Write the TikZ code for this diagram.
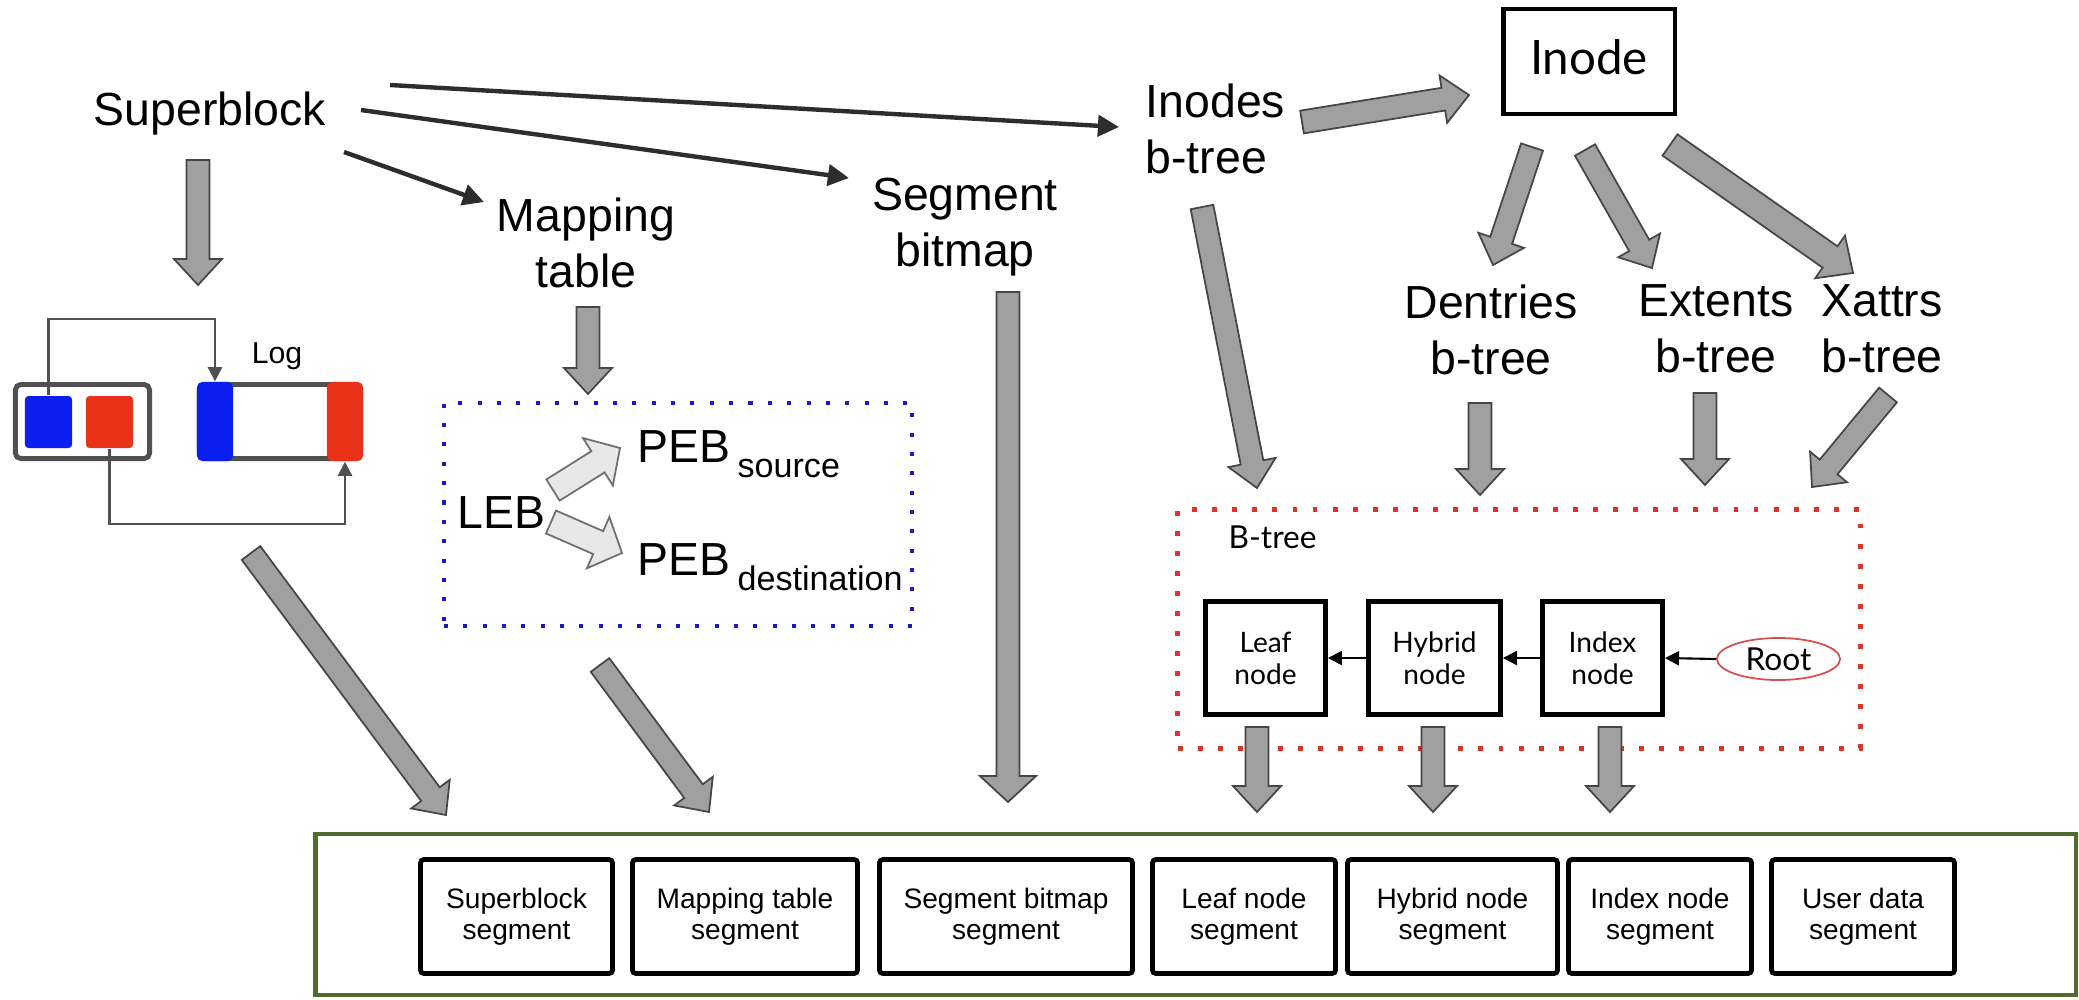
\documentclass[tikz,border=0pt]{standalone}
\usepackage{fontspec}
\setmainfont{Liberation Sans}
\newfontfamily\geofont{Lato}
\usetikzlibrary{calc,arrows.meta,shapes.geometric}

\definecolor{arrowgray}{RGB}{160,160,160}
\definecolor{arrowedge}{RGB}{70,70,70}
\definecolor{lightarrow}{RGB}{232,232,232}
\definecolor{lightedge}{RGB}{110,110,110}
\definecolor{darkline}{RGB}{45,45,45}
\definecolor{loggray}{RGB}{80,80,80}
\definecolor{cacheblue}{RGB}{10,30,240}
\definecolor{cachered}{RGB}{232,50,25}
\definecolor{dotblue}{RGB}{25,25,200}
\definecolor{dotred}{RGB}{225,50,40}
\definecolor{diskgreen}{RGB}{78,108,48}
\definecolor{rootred}{RGB}{215,80,80}

% block arrow: [style]{from}{to}{half shaft width}{half head width}{head length}
\newcommand\fatarrow[6][fatgray]{%
  \coordinate (fabase) at ($(#3)!#6!(#2)$);
  \draw[#1] ($(#2)!#4!90:(#3)$) -- ($(fabase)!#4!90:(#3)$) -- ($(fabase)!#5!90:(#3)$)
    -- (#3) -- ($(fabase)!#5!-90:(#3)$) -- ($(fabase)!#4!-90:(#3)$)
    -- ($(#2)!#4!-90:(#3)$) -- cycle;}
\newcommand\grayarrow[2]{\fatarrow{#1}{#2}{0.115cm}{0.24cm}{0.26cm}}

\begin{document}
\begin{tikzpicture}[x=0.01cm,y=-0.01cm,
  lbl/.style={font=\fontsize{13.2pt}{15.9pt}\selectfont, inner sep=0pt, align=center},
  seglbl/.style={draw=black, line width=1.35pt, rounded corners=1pt,
    font=\fontsize{8pt}{8.7pt}\selectfont, align=center, minimum height=1.14cm, inner sep=0pt},
  treebox/.style={draw=black, line width=1.35pt,
    font=\geofont\fontsize{8pt}{9.1pt}\selectfont, align=center, minimum height=1.13cm, inner sep=0pt},
  thinarrow/.style={draw=darkline, line width=1.25pt, -{Triangle[length=6pt,width=6pt]}},
  logline/.style={draw=loggray, line width=0.6pt, -{Triangle[length=4pt,width=4pt]}},
  treelink/.style={draw=black, line width=0.6pt, -{Triangle[length=4pt,width=4pt]}},
  fatgray/.style={fill=arrowgray, draw=arrowedge, line width=0.5pt, line join=miter},
  fatlight/.style={fill=lightarrow, draw=lightedge, line width=0.5pt, line join=miter},
  frame/.style={inner sep=0pt},
]
\fill[white] (0,0) rectangle (2079,999);
\useasboundingbox (0,0) rectangle (2079,999);

% ---------- top labels ----------
\node[lbl, anchor=base] (sb) at (210,125) {Superblock};
\node[lbl, anchor=north] (mt) at (586,197) {Mapping\\table};
\node[lbl, anchor=north] (bm) at (965,177) {Segment\\bitmap};
\node[lbl, anchor=north west, align=left] (ibt) at (1145,83) {Inodes\\b-tree};
\node[draw=black, line width=1.3pt, minimum width=1.715cm, minimum height=1.05cm, inner sep=0pt,
  text height=9.7pt, text depth=2.4pt,
  font=\geofont\fontsize{13.5pt}{16pt}\selectfont] (inode) at (1589,61.5) {Inode};
\node[lbl, anchor=north] (dent) at (1491,284) {Dentries\\b-tree};
\node[lbl, anchor=north] (ext) at (1716,284) {Extents\\b-tree};
\node[lbl, anchor=north] (xat) at (1882,284) {Xattrs\\b-tree};

% ---------- thin arrows from the superblock ----------
\coordinate (sbmt-s) at (344,152);  \coordinate (sbmt-e) at (484,202);
\coordinate (sbbm-s) at (361,110);  \coordinate (sbbm-e) at (849,178);
\coordinate (sbib-s) at (390,85);   \coordinate (sbib-e) at (1119,127);
\draw[thinarrow] (sbmt-s) -- (sbmt-e);
\draw[thinarrow] (sbbm-s) -- (sbbm-e);
\draw[thinarrow] (sbib-s) -- (sbib-e);

% ---------- log area ----------
\node[frame, draw=loggray, line width=1.4pt, rounded corners=1.5pt, minimum width=1.34cm, minimum height=0.74cm] (cache) at (82.5,421.5) {};
\node[frame, fill=cacheblue, rounded corners=1pt, minimum width=0.47cm, minimum height=0.52cm] (cblue) at (48.5,422) {};
\node[frame, fill=cachered, rounded corners=1pt, minimum width=0.47cm, minimum height=0.52cm] (cred) at (109.5,422) {};
\node[frame, draw=loggray, line width=1.4pt, rounded corners=1.5pt, minimum width=1.61cm, minimum height=0.74cm] (log) at (280,421.5) {};
\node[frame, fill=cacheblue, rounded corners=1.5pt, minimum width=0.36cm, minimum height=0.79cm] (logblue) at (215,421.5) {};
\node[frame, fill=cachered, rounded corners=1.5pt, minimum width=0.36cm, minimum height=0.79cm] (logred) at (345,421.5) {};
\node[inner sep=0pt, anchor=base, font=\fontsize{8.6pt}{10pt}\selectfont] (loglbl) at (277,363) {Log};
\draw[logline] (cblue.north) -- ++(0,-76) -| (logblue.north);
\draw[logline] (cred.south) -- ++(0,75) -| (logred.south);

% ---------- mapping table contents ----------
\node[frame, draw=dotblue, line width=1.15pt, dash pattern=on 1.15pt off 4.35pt,
  minimum width=4.68cm, minimum height=2.23cm] (remap) at (678,514.5) {};
\node[lbl, anchor=base west] (leb) at (457,528) {LEB};
\node[lbl, anchor=base west] (pebs) at (637,462)
  {PEB\kern2pt\raisebox{-4.5pt}{\fontsize{9.7pt}{10pt}\selectfont source}};
\node[lbl, anchor=base west] (pebd) at (637,575)
  {PEB\kern2pt\raisebox{-4.5pt}{\fontsize{9.7pt}{10pt}\selectfont destination}};
\coordinate (lebs-s) at (553,490); \coordinate (lebs-e) at (620,448);
\coordinate (lebd-s) at (551,522); \coordinate (lebd-e) at (622,553);
\fatarrow[fatlight]{lebs-s}{lebs-e}{0.125cm}{0.28cm}{0.26cm}
\fatarrow[fatlight]{lebd-s}{lebd-e}{0.125cm}{0.28cm}{0.26cm}

% ---------- B-tree ----------
\node[frame, draw=dotred, line width=1.4pt, dash pattern=on 1.4pt off 4.3pt,
  minimum width=6.82cm, minimum height=2.38cm] (btree) at (1519,629) {};
\node[inner sep=0pt, anchor=base west, font=\geofont\fontsize{9pt}{10pt}\selectfont] (btlbl) at (1228,548) {B-tree};
\node[treebox, minimum width=1.20cm] (leaf) at (1265.5,658) {Leaf\\node};
\node[treebox, minimum width=1.32cm] (hybrid) at (1434.5,658) {Hybrid\\node};
\node[treebox, minimum width=1.20cm] (index) at (1602.5,658) {Index\\node};
\node[ellipse, draw=rootred, line width=0.5pt, fill=white, inner sep=0pt,
  minimum width=1.23cm, minimum height=0.42cm, font=\geofont\fontsize{9pt}{10pt}\selectfont] (root) at (1778.5,659) {Root};
\draw[treelink] (root.west) -- (index.east);
\draw[treelink] (index.west) -- (hybrid.east);
\draw[treelink] (hybrid.west) -- (leaf.east);

% ---------- on-disk segments ----------
\node[frame, draw=diskgreen, line width=1.15pt, minimum width=17.59cm, minimum height=1.61cm] (disk) at (1195.5,914.5) {};
\node[seglbl, minimum width=1.92cm] (sbseg) at (516.5,916.5) {Superblock\\segment};
\node[seglbl, minimum width=2.25cm] (mtseg) at (745,916.5) {Mapping table\\segment};
\node[seglbl, minimum width=2.53cm] (bmseg) at (1006,916.5) {Segment bitmap\\segment};
\node[seglbl, minimum width=1.83cm] (lfseg) at (1244,916.5) {Leaf node\\segment};
\node[seglbl, minimum width=2.10cm] (hyseg) at (1452.5,916.5) {Hybrid node\\segment};
\node[seglbl, minimum width=1.83cm] (ixseg) at (1660,916.5) {Index node\\segment};
\node[seglbl, minimum width=1.83cm] (udseg) at (1863,916.5) {User data\\segment};

% ---------- block arrows ----------
\coordinate (sbdn-s) at (198,160);   \coordinate (sbdn-e) at (198,285);
\coordinate (mtdn-s) at (588,307);   \coordinate (mtdn-e) at (588,394);
\coordinate (bmdn-s) at (1008,292);  \coordinate (bmdn-e) at (1008,802);
\coordinate (logdn-s) at (251,553);  \coordinate (logdn-e) at (446,815);
\coordinate (rmdn-s) at (600,665);   \coordinate (rmdn-e) at (709,812);
\coordinate (ibin-s) at (1302,122);  \coordinate (ibin-e) at (1469,95);
\coordinate (ide-s) at (1532,147);   \coordinate (ide-e) at (1493,265);
\coordinate (iex-s) at (1585,150);   \coordinate (iex-e) at (1652,268);
\coordinate (ixa-s) at (1670,145);   \coordinate (ixa-e) at (1853,273);
\coordinate (ibdn-s) at (1202,207);  \coordinate (ibdn-e) at (1257,488);
\coordinate (dedn-s) at (1480,403);  \coordinate (dedn-e) at (1480,495);
\coordinate (exdn-s) at (1705,393);  \coordinate (exdn-e) at (1705,485);
\coordinate (xadn-s) at (1888,395);  \coordinate (xadn-e) at (1812,487);
\coordinate (lfdn-s) at (1257,727);  \coordinate (lfdn-e) at (1257,812);
\coordinate (hydn-s) at (1433,727);  \coordinate (hydn-e) at (1433,812);
\coordinate (ixdn-s) at (1610,727);  \coordinate (ixdn-e) at (1610,812);

\grayarrow{sbdn-s}{sbdn-e}
\grayarrow{mtdn-s}{mtdn-e}
\fatarrow{bmdn-s}{bmdn-e}{0.115cm}{0.28cm}{0.26cm}
\grayarrow{logdn-s}{logdn-e}
\grayarrow{rmdn-s}{rmdn-e}
\grayarrow{ibin-s}{ibin-e}
\grayarrow{ide-s}{ide-e}
\grayarrow{iex-s}{iex-e}
\fatarrow{ixa-s}{ixa-e}{0.13cm}{0.26cm}{0.28cm}
\grayarrow{ibdn-s}{ibdn-e}
\grayarrow{dedn-s}{dedn-e}
\grayarrow{exdn-s}{exdn-e}
\grayarrow{xadn-s}{xadn-e}
\grayarrow{lfdn-s}{lfdn-e}
\grayarrow{hydn-s}{hydn-e}
\grayarrow{ixdn-s}{ixdn-e}
\end{tikzpicture}
\end{document}
